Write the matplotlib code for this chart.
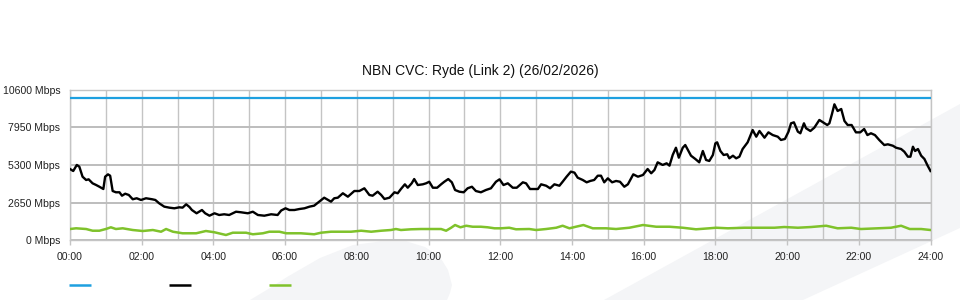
import matplotlib
matplotlib.use("Agg")
import matplotlib.pyplot as plt
from matplotlib.lines import Line2D
from matplotlib.patches import Polygon

plt.rcParams['font.family'] = ['Liberation Sans', 'DejaVu Sans']

title = "NBN CVC: Ryde (Link 2) (26/02/2026)"
ytick_vals = [0, 2650, 5300, 7950, 10600]
ytick_labels = ["0 Mbps", "2650 Mbps", "5300 Mbps", "7950 Mbps", "10600 Mbps"]
xtick_hours = list(range(0, 25, 2))
xtick_labels = ["%02d:00" % h for h in xtick_hours]

capacity_hours = [0, 24]
capacity_vals = [10000, 10000]

traffic_hours = [
    0.00, 0.09, 0.19, 0.26, 0.35, 0.45, 0.52, 0.63, 0.73, 0.82, 0.93, 0.98, 1.06, 1.12, 1.19,
    1.28, 1.38, 1.45, 1.54, 1.64, 1.75, 1.86, 1.98, 2.12, 2.29, 2.38, 2.49, 2.63, 2.77, 2.91,
    3.05, 3.14, 3.24, 3.33, 3.40, 3.53, 3.68, 3.77, 3.89, 4.03, 4.16, 4.30, 4.44, 4.63, 4.77,
    4.96, 5.10, 5.24, 5.42, 5.61, 5.79, 5.89, 6.01, 6.12, 6.26, 6.40, 6.54, 6.68, 6.81, 6.95,
    7.09, 7.28, 7.37, 7.47, 7.61, 7.75, 7.93, 8.07, 8.21, 8.35, 8.44, 8.58, 8.68, 8.77, 8.91,
    9.05, 9.14, 9.23, 9.34, 9.42, 9.53, 9.60, 9.70, 9.84, 9.93, 10.02, 10.12, 10.24, 10.35, 10.44,
    10.55, 10.65, 10.74, 10.86, 10.98, 11.09, 11.21, 11.32, 11.46, 11.60, 11.74, 11.88, 11.98, 12.09, 12.21,
    12.35, 12.46, 12.63, 12.72, 12.83, 12.95, 13.05, 13.14, 13.28, 13.39, 13.51, 13.65, 13.74, 13.85, 13.97,
    14.07, 14.16, 14.30, 14.41, 14.51, 14.62, 14.72, 14.81, 14.90, 15.00, 15.12, 15.23, 15.34, 15.46, 15.56,
    15.71, 15.84, 15.98, 16.11, 16.21, 16.30, 16.39, 16.53, 16.64, 16.72, 16.81, 16.90, 16.98, 17.09, 17.16,
    17.32, 17.44, 17.55, 17.65, 17.74, 17.83, 17.93, 18.00, 18.05, 18.14, 18.23, 18.33, 18.39, 18.49, 18.58,
    18.67, 18.76, 18.90, 19.04, 19.14, 19.23, 19.37, 19.48, 19.60, 19.74, 19.83, 19.94, 20.04, 20.11, 20.19,
    20.30, 20.37, 20.47, 20.53, 20.65, 20.76, 20.90, 21.00, 21.12, 21.18, 21.25, 21.32, 21.41, 21.51, 21.60,
    21.69, 21.80, 21.92, 22.04, 22.15, 22.24, 22.34, 22.45, 22.57, 22.71, 22.81, 22.95, 23.04, 23.18, 23.27,
    23.37, 23.44, 23.51, 23.57, 23.65, 23.74, 23.83, 23.92, 24.00,
]
traffic_vals = [
    5016, 4875, 5300, 5180, 4475, 4243, 4290, 4010, 3890, 3770, 3610, 4475, 4640, 4545, 3470,
    3380, 3380, 3140, 3280, 3190, 2890, 2960, 2840, 2960, 2890, 2840, 2600, 2370, 2300, 2255,
    2325, 2300, 2535, 2350, 2135, 1905, 2135, 1905, 1735, 1905, 1785, 1835, 1785, 2015, 1975,
    1905, 2015, 1785, 1735, 1835, 1785, 2100, 2255, 2135, 2135, 2205, 2255, 2370, 2440, 2720,
    3000, 2720, 2960, 3000, 3310, 3070, 3470, 3470, 3660, 3190, 3140, 3420, 3190, 2910, 3000,
    3380, 3310, 3610, 3940, 3700, 4010, 4310, 3890, 3940, 4010, 4120, 3700, 3700, 3940, 4120,
    4310, 4080, 3540, 3420, 3380, 3660, 3770, 3470, 3380, 3540, 3660, 4120, 4290, 3890, 4010,
    3700, 3700, 4080, 4010, 3610, 3610, 3610, 3940, 3840, 3660, 3940, 3840, 4120, 4475, 4830,
    4760, 4405, 4245, 4080, 4175, 4245, 4545, 4545, 4080, 4360, 4080, 4175, 4120, 3770, 3940,
    4640, 4475, 4595, 5015, 4715, 4945, 5485, 5300, 5415, 5250, 6000, 6510, 5810, 6510, 6700,
    5950, 5720, 5485, 6280, 5650, 5580, 6000, 6820, 6890, 6280, 6000, 6050, 5765, 5950, 5765,
    5880, 6420, 6890, 7755, 7285, 7685, 7215, 7590, 7400, 7285, 7055, 7125, 7640, 8225, 8295,
    7640, 7525, 8225, 7875, 7685, 7920, 8460, 8295, 8105, 8225, 8860, 9560, 9090, 9230, 8390,
    8105, 8105, 7590, 7590, 7825, 7400, 7525, 7400, 7055, 6700, 6750, 6650, 6510, 6420, 6230,
    5880, 5880, 6580, 6280, 6420, 5950, 5720, 5250, 4875,
]

upload_hours = [
    0.00, 0.17, 0.45, 0.63, 0.82, 1.00, 1.14, 1.28, 1.47, 1.75, 2.03, 2.31, 2.54, 2.68, 2.87,
    3.14, 3.52, 3.79, 4.03, 4.35, 4.54, 4.91, 5.10, 5.38, 5.56, 5.84, 6.03, 6.16, 6.44, 6.81,
    7.00, 7.28, 7.56, 7.84, 8.12, 8.40, 8.68, 8.95, 9.09, 9.23, 9.51, 9.79, 10.07, 10.35, 10.49,
    10.63, 10.74, 10.89, 11.05, 11.23, 11.46, 11.65, 11.84, 12.02, 12.25, 12.44, 12.81, 13.00, 13.28, 13.56,
    13.74, 13.93, 14.11, 14.32, 14.58, 14.95, 15.23, 15.60, 15.98, 16.35, 16.72, 17.09, 17.46, 17.83, 18.02,
    18.35, 18.81, 19.27, 19.65, 19.92, 20.30, 20.67, 21.09, 21.41, 21.79, 22.06, 22.53, 22.90, 23.18, 23.42,
    23.74, 24.00,
]
upload_vals = [
    800, 850, 800, 680, 680, 800, 920, 800, 850, 730, 660, 730, 610, 800, 610,
    500, 500, 660, 570, 380, 540, 540, 430, 500, 610, 610, 500, 500, 500, 430,
    540, 610, 610, 610, 680, 610, 680, 730, 800, 730, 780, 800, 800, 800, 680,
    890, 1080, 920, 1030, 960, 960, 920, 850, 850, 890, 780, 800, 730, 800, 890,
    1030, 850, 960, 1080, 850, 850, 800, 890, 1080, 960, 960, 890, 780, 850, 890,
    850, 890, 890, 890, 940, 890, 940, 1030, 850, 890, 800, 850, 890, 1030, 800,
    800, 730,
]

W, H = 960, 300
fig = plt.figure(figsize=(W / 100, H / 100), dpi=100)
fig.patch.set_facecolor('white')

def fp(pts):
    return [(x / W, 1 - y / H) for x, y in pts]

bg = '#f4f5f7'
shapeA = [(250, 300), (270, 288), (287, 277), (320, 258), (353, 245), (380, 241.5),
          (407, 241.5), (425, 247), (440, 257), (448, 270), (452, 285), (450, 293), (447, 300)]
shapeB = [(604, 300), (960, 104), (960, 228), (803, 300)]
for shp in (shapeA, shapeB):
    fig.patches.append(Polygon(fp(shp), closed=True, transform=fig.transFigure,
                               facecolor=bg, edgecolor='none', zorder=-5))

ax_left, ax_right, ax_top, ax_bot = 70, 930.5, 89.5, 240.4
ax = fig.add_axes([ax_left / W, 1 - ax_bot / H, (ax_right - ax_left) / W, (ax_bot - ax_top) / H])
ax.set_facecolor('none')
ax.set_xlim(0, 24)
ax.set_ylim(0, 10600)

grid_c = '#c4c4c4'
ax.set_yticks(ytick_vals)
ax.set_yticklabels(ytick_labels)
ax.set_xticks(xtick_hours)
ax.set_xticklabels(xtick_labels)
ax.set_xticks(range(1, 24, 2), minor=True)
ax.tick_params(axis='y', length=0, pad=7, labelsize=7.6, labelcolor='#222222')
ax.tick_params(axis='x', which='major', length=3.8, width=1, color=grid_c, pad=4.5,
               labelsize=7.6, labelcolor='#222222')
ax.tick_params(axis='x', which='minor', length=0)
ax.grid(axis='x', which='both', color=grid_c, lw=1.0, zorder=0)
ax.grid(axis='y', which='major', color='#bdbdbd', lw=1.4, zorder=0)
for s in ax.spines.values():
    s.set_color(grid_c)
    s.set_linewidth(1.0)

blue = '#1ea0e0'
black = '#000000'
green = '#7fc22b'
ax.plot(capacity_hours, capacity_vals, color=blue, lw=1.6, zorder=3, solid_capstyle='butt')
ax.plot(upload_hours, upload_vals, color=green, lw=1.8, zorder=3)
ax.plot(traffic_hours, traffic_vals, color=black, lw=1.7, zorder=4)

fig.text(480 / W, 1 - 70.5 / H, title, ha='center', va='center', fontsize=10, color='#111111')

for x0, col in ((69, blue), (169, black), (269, green)):
    fig.add_artist(Line2D([x0 / W, (x0 + 22) / W], [1 - 285 / H, 1 - 285 / H],
                          transform=fig.transFigure, color=col, lw=1.8, solid_capstyle='butt'))

fig.savefig('out.png', dpi=100)
